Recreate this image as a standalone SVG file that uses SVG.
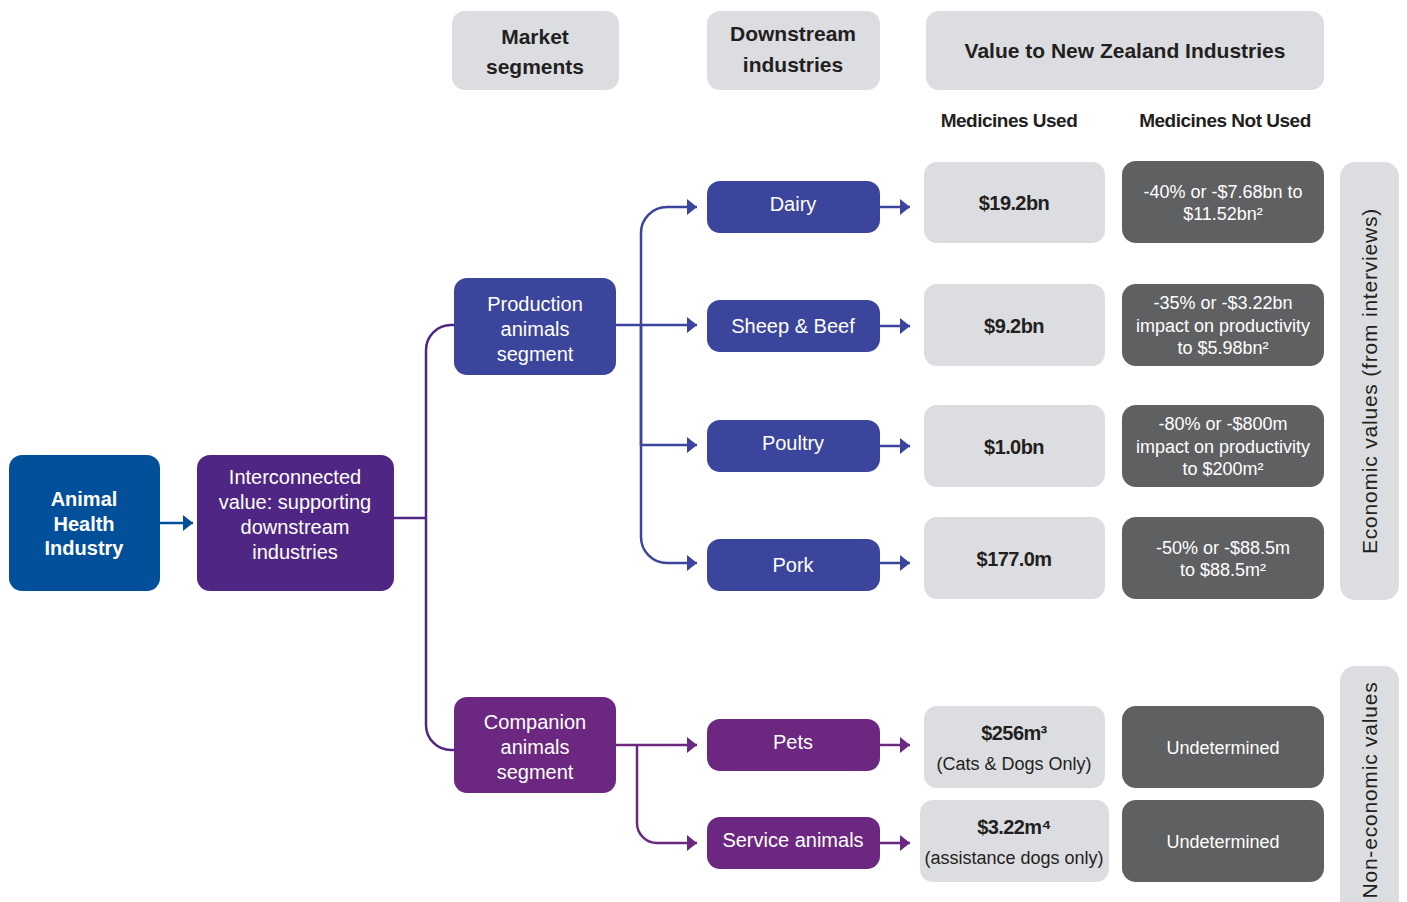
<svg xmlns="http://www.w3.org/2000/svg" width="1407" height="902" viewBox="0 0 1407 902">
  <defs>
    <style>
      text { font-family: "Liberation Sans", Arial, sans-serif; text-anchor: middle; }
      .hdr { fill: #dcdde0; }
      .hdr-t { font-size: 21px; font-weight: bold; fill: #231f20; }
      .sub-t { font-size: 19px; font-weight: bold; fill: #231f20; letter-spacing: -0.5px; }
      .wt { fill: #ffffff; font-size: 20px; }
      .wb { fill: #ffffff; font-size: 20px; font-weight: bold; }
      .val { fill: #dcdde0; }
      .val-b { font-size: 20px; font-weight: bold; fill: #231f20; letter-spacing: -0.6px; }
      .val-n { font-size: 18px; fill: #231f20; }
      .dark { fill: #5f6062; }
      .dark-t { font-size: 18px; fill: #ffffff; }
      .side-t { font-size: 21px; fill: #231f20; letter-spacing: 0.8px; }
      .ln { fill: none; stroke-width: 2.5; }
      .purple-d { stroke: #4f2683; }
      .blue { stroke: #3a459b; }
      .plum { stroke: #6c2780; }
      .navy { stroke: #02509a; }
    </style>
    <marker id="ah-navy" markerUnits="userSpaceOnUse" markerWidth="12" markerHeight="18" refX="10" refY="8" orient="auto">
      <path d="M0,0 L10,8 L0,16 z" fill="#02509a"/>
    </marker>
    <marker id="ah-blue" markerUnits="userSpaceOnUse" markerWidth="12" markerHeight="18" refX="10" refY="8" orient="auto">
      <path d="M0,0 L10,8 L0,16 z" fill="#3a459b"/>
    </marker>
    <marker id="ah-plum" markerUnits="userSpaceOnUse" markerWidth="12" markerHeight="18" refX="10" refY="8" orient="auto">
      <path d="M0,0 L10,8 L0,16 z" fill="#6c2780"/>
    </marker>
  </defs>

  <rect width="1407" height="902" fill="#ffffff"/>

  <!-- Column headers -->
  <g id="hdr-market">
    <rect class="hdr" x="452" y="11" width="167" height="79" rx="13"/>
    <text class="hdr-t" x="535" y="44">Market</text>
    <text class="hdr-t" x="535" y="74">segments</text>
  </g>
  <g id="hdr-downstream">
    <rect class="hdr" x="707" y="11" width="173" height="79" rx="13"/>
    <text class="hdr-t" x="793" y="41">Downstream</text>
    <text class="hdr-t" x="793" y="72">industries</text>
  </g>
  <g id="hdr-value">
    <rect class="hdr" x="926" y="11" width="398" height="79" rx="13"/>
    <text class="hdr-t" x="1125" y="58">Value to New Zealand Industries</text>
  </g>
  <text class="sub-t" x="1009" y="127">Medicines Used</text>
  <text class="sub-t" x="1225" y="127">Medicines Not Used</text>

  <!-- Connectors -->
  <g id="connectors">
    <path class="ln navy" d="M160,523 H193" marker-end="url(#ah-navy)"/>
    <path class="ln purple-d" d="M394,518 H426"/>
    <path class="ln purple-d" d="M426,518 V350 A25,25 0 0 1 451,325 H456"/>
    <path class="ln purple-d" d="M426,518 V725 A25,25 0 0 0 451,750 H456"/>

    <path class="ln blue" d="M641,325 V233 A26,26 0 0 1 667,207 H697" marker-end="url(#ah-blue)"/>
    <path class="ln blue" d="M616,325 H697" marker-end="url(#ah-blue)"/>
    <path class="ln blue" d="M641,325 V445 H697" marker-end="url(#ah-blue)"/>
    <path class="ln blue" d="M641,325 V537 A26,26 0 0 0 667,563 H697" marker-end="url(#ah-blue)"/>

    <path class="ln plum" d="M616,745 H697" marker-end="url(#ah-plum)"/>
    <path class="ln plum" d="M637,745 V823 A20,20 0 0 0 657,843 H697" marker-end="url(#ah-plum)"/>

    <path class="ln blue" d="M880,207 H910" marker-end="url(#ah-blue)"/>
    <path class="ln blue" d="M880,326 H910" marker-end="url(#ah-blue)"/>
    <path class="ln blue" d="M880,446 H910" marker-end="url(#ah-blue)"/>
    <path class="ln blue" d="M880,563 H910" marker-end="url(#ah-blue)"/>
    <path class="ln plum" d="M880,745 H910" marker-end="url(#ah-plum)"/>
    <path class="ln plum" d="M880,843 H910" marker-end="url(#ah-plum)"/>
  </g>

  <!-- Source nodes -->
  <g id="animal-health">
    <rect x="9" y="455" width="151" height="136" rx="13" fill="#02509a"/>
    <text class="wb" x="84" y="506">Animal</text>
    <text class="wb" x="84" y="531">Health</text>
    <text class="wb" x="84" y="555">Industry</text>
  </g>
  <g id="interconnected">
    <rect x="197" y="455" width="197" height="136" rx="13" fill="#4f2683"/>
    <text class="wt" x="295" y="484">Interconnected</text>
    <text class="wt" x="295" y="509">value: supporting</text>
    <text class="wt" x="295" y="534">downstream</text>
    <text class="wt" x="295" y="559">industries</text>
  </g>

  <!-- Market segments -->
  <g id="production">
    <rect x="454" y="278" width="162" height="97" rx="13" fill="#3a459b"/>
    <text class="wt" x="535" y="311">Production</text>
    <text class="wt" x="535" y="336">animals</text>
    <text class="wt" x="535" y="361">segment</text>
  </g>
  <g id="companion">
    <rect x="454" y="697" width="162" height="96" rx="13" fill="#6c2780"/>
    <text class="wt" x="535" y="729">Companion</text>
    <text class="wt" x="535" y="754">animals</text>
    <text class="wt" x="535" y="779">segment</text>
  </g>

  <!-- Downstream industries -->
  <g id="dairy">
    <rect x="707" y="181" width="173" height="52" rx="13" fill="#3a459b"/>
    <text class="wt" x="793" y="211">Dairy</text>
  </g>
  <g id="sheep-beef">
    <rect x="707" y="300" width="173" height="52" rx="13" fill="#3a459b"/>
    <text class="wt" x="793" y="333">Sheep &amp; Beef</text>
  </g>
  <g id="poultry">
    <rect x="707" y="420" width="173" height="52" rx="13" fill="#3a459b"/>
    <text class="wt" x="793" y="450">Poultry</text>
  </g>
  <g id="pork">
    <rect x="707" y="539" width="173" height="52" rx="13" fill="#3a459b"/>
    <text class="wt" x="793" y="572">Pork</text>
  </g>
  <g id="pets">
    <rect x="707" y="719" width="173" height="52" rx="13" fill="#6c2780"/>
    <text class="wt" x="793" y="749">Pets</text>
  </g>
  <g id="service-animals">
    <rect x="707" y="817" width="173" height="52" rx="13" fill="#6c2780"/>
    <text class="wt" x="793" y="847">Service animals</text>
  </g>

  <!-- Medicines used -->
  <g id="used-dairy">
    <rect class="val" x="924" y="162" width="181" height="81" rx="13"/>
    <text class="val-b" x="1014" y="210">$19.2bn</text>
  </g>
  <g id="used-sheep">
    <rect class="val" x="924" y="284" width="181" height="82" rx="13"/>
    <text class="val-b" x="1014" y="333">$9.2bn</text>
  </g>
  <g id="used-poultry">
    <rect class="val" x="924" y="405" width="181" height="82" rx="13"/>
    <text class="val-b" x="1014" y="454">$1.0bn</text>
  </g>
  <g id="used-pork">
    <rect class="val" x="924" y="517" width="181" height="82" rx="13"/>
    <text class="val-b" x="1014" y="566">$177.0m</text>
  </g>
  <g id="used-pets">
    <rect class="val" x="924" y="706" width="181" height="82" rx="13"/>
    <text class="val-b" x="1014" y="740">$256m³</text>
    <text class="val-n" x="1014" y="770">(Cats &amp; Dogs Only)</text>
  </g>
  <g id="used-service">
    <rect class="val" x="920" y="800" width="189" height="82" rx="13"/>
    <text class="val-b" x="1014" y="834">$3.22m⁴</text>
    <text class="val-n" x="1014" y="864">(assistance dogs only)</text>
  </g>

  <!-- Medicines not used -->
  <g id="notused-dairy">
    <rect class="dark" x="1122" y="161" width="202" height="82" rx="14"/>
    <text class="dark-t" x="1223" y="198">-40% or -$7.68bn to</text>
    <text class="dark-t" x="1223" y="220">$11.52bn²</text>
  </g>
  <g id="notused-sheep">
    <rect class="dark" x="1122" y="284" width="202" height="82" rx="14"/>
    <text class="dark-t" x="1223" y="309">-35% or -$3.22bn</text>
    <text class="dark-t" x="1223" y="332">impact on productivity</text>
    <text class="dark-t" x="1223" y="354">to $5.98bn²</text>
  </g>
  <g id="notused-poultry">
    <rect class="dark" x="1122" y="405" width="202" height="82" rx="14"/>
    <text class="dark-t" x="1223" y="430">-80% or -$800m</text>
    <text class="dark-t" x="1223" y="453">impact on productivity</text>
    <text class="dark-t" x="1223" y="475">to $200m²</text>
  </g>
  <g id="notused-pork">
    <rect class="dark" x="1122" y="517" width="202" height="82" rx="14"/>
    <text class="dark-t" x="1223" y="554">-50% or -$88.5m</text>
    <text class="dark-t" x="1223" y="576">to $88.5m²</text>
  </g>
  <g id="notused-pets">
    <rect class="dark" x="1122" y="706" width="202" height="82" rx="14"/>
    <text class="dark-t" x="1223" y="754">Undetermined</text>
  </g>
  <g id="notused-service">
    <rect class="dark" x="1122" y="800" width="202" height="82" rx="14"/>
    <text class="dark-t" x="1223" y="848">Undetermined</text>
  </g>

  <!-- Side category bars -->
  <g id="economic-bar">
    <rect class="hdr" x="1340" y="162" width="59" height="438" rx="15"/>
    <text class="side-t" transform="translate(1377,381) rotate(-90)">Economic values (from interviews)</text>
  </g>
  <g id="non-economic-bar">
    <rect class="hdr" x="1340" y="666" width="59" height="260" rx="15"/>
    <text class="side-t" transform="translate(1377,790) rotate(-90)">Non-economic values</text>
  </g>
</svg>
